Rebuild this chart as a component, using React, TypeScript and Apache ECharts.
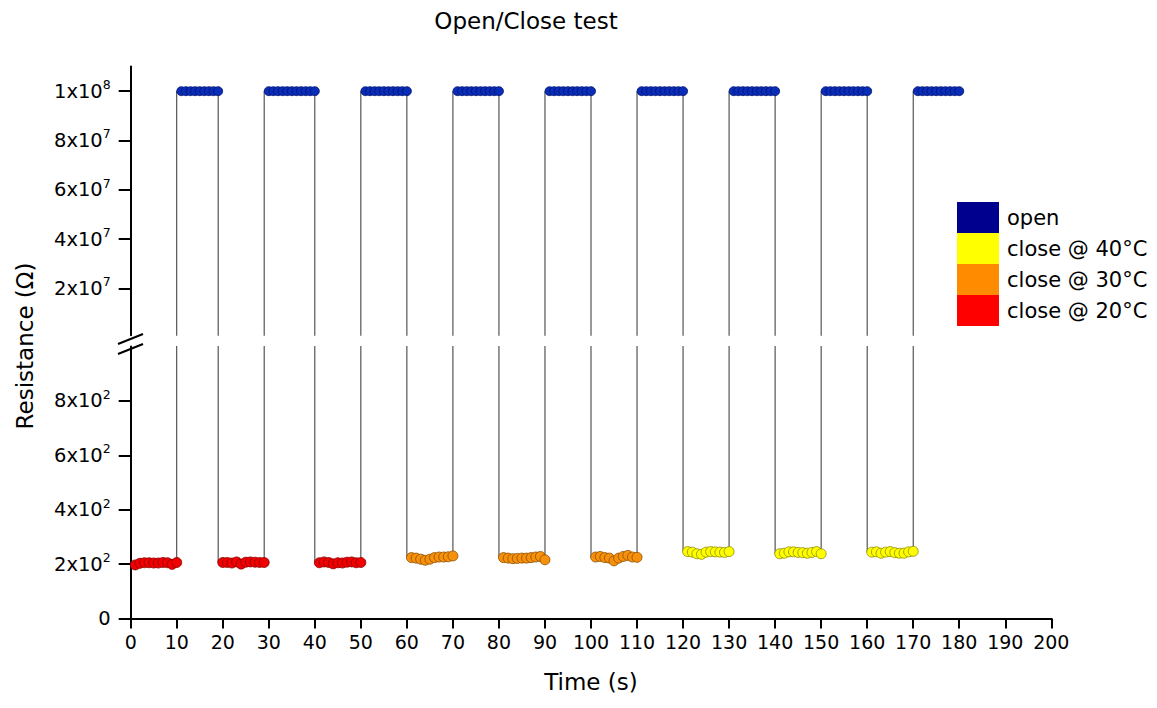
import React, { useEffect, useRef } from "react";
import * as echarts from "echarts";

// ---------- data ----------
const xTickValues = [0, 10, 20, 30, 40, 50, 60, 70, 80, 90, 100, 110, 120, 130, 140, 150, 160, 170, 180, 190, 200];
const upperTicks = [2e7, 4e7, 6e7, 8e7, 1e8];
const lowerTicks = [0, 200, 400, 600, 800];

// open state (time of first point of each run, resistance values)
const openStarts = [11, 30, 51, 71, 91, 111, 131, 151, 171];
const openValues = [
  [1e8, 1e8, 1e8, 1e8, 1e8, 1e8, 1e8, 1e8, 1e8],
  [1e8, 1e8, 1e8, 1e8, 1e8, 1e8, 1e8, 1e8, 1e8, 1e8, 1e8],
  [1e8, 1e8, 1e8, 1e8, 1e8, 1e8, 1e8, 1e8, 1e8, 1e8],
  [1e8, 1e8, 1e8, 1e8, 1e8, 1e8, 1e8, 1e8, 1e8, 1e8],
  [1e8, 1e8, 1e8, 1e8, 1e8, 1e8, 1e8, 1e8, 1e8, 1e8],
  [1e8, 1e8, 1e8, 1e8, 1e8, 1e8, 1e8, 1e8, 1e8, 1e8],
  [1e8, 1e8, 1e8, 1e8, 1e8, 1e8, 1e8, 1e8, 1e8, 1e8],
  [1e8, 1e8, 1e8, 1e8, 1e8, 1e8, 1e8, 1e8, 1e8, 1e8],
  [1e8, 1e8, 1e8, 1e8, 1e8, 1e8, 1e8, 1e8, 1e8, 1e8],
];

// close @ 20°C
const close20Starts = [1, 20, 41];
const close20Values = [
  [197, 203, 205, 205, 204, 204, 206, 205, 199, 206],
  [206, 206, 204, 208, 200, 207, 208, 207, 206, 206],
  [205, 208, 206, 201, 205, 204, 207, 208, 205, 206],
];

// close @ 30°C
const close30Starts = [61, 81, 101];
const close30Values = [
  [224, 222, 218, 214, 218, 224, 226, 226, 227, 230],
  [224, 222, 220, 221, 222, 222, 224, 226, 228, 216],
  [226, 228, 224, 222, 212, 222, 228, 232, 226, 225],
];

// close @ 40°C
const close40Starts = [121, 141, 161];
const close40Values = [
  [246, 244, 238, 236, 244, 246, 245, 244, 243, 246],
  [238, 240, 245, 245, 243, 242, 240, 243, 246, 238],
  [244, 245, 240, 244, 246, 242, 240, 240, 245, 247],
];

const seriesNames = ["open", "close @ 40°C", "close @ 30°C", "close @ 20°C"];
const legendColors = ["#00008F", "#FFFF00", "#FF8C00", "#FF0000"];

// ---------- helpers ----------
const FONT = "DejaVu Sans";

function toPoints(starts: number[], values: number[][]): number[][] {
  const pts: number[][] = [];
  starts.forEach((s, k) => {
    values[k].forEach((v, i) => pts.push([s + i, v]));
  });
  return pts;
}

function sciLabel(v: number): string {
  if (v === 0) return "{b|0}";
  const e = Math.floor(Math.log10(v) + 1e-9);
  const m = Math.round(v / Math.pow(10, e));
  return `{b|${m}x10}{s|${e}}`;
}

const richLabel = {
  b: { fontSize: 19.5, lineHeight: 26, fontFamily: FONT, color: "#000" },
  s: { fontSize: 12.5, lineHeight: 12, verticalAlign: "top", fontFamily: FONT, color: "#000" },
};

export default function App() {
  const ref = useRef<HTMLDivElement>(null);

  useEffect(() => {
    if (!ref.current) return;
    const chart = echarts.init(ref.current, null, { renderer: "svg" });

    const openPts = toPoints(openStarts, openValues);
    const c20 = toPoints(close20Starts, close20Values);
    const c30 = toPoints(close30Starts, close30Values);
    const c40 = toPoints(close40Starts, close40Values);
    const trace = [...openPts, ...c20, ...c30, ...c40].sort((a, b) => a[0] - b[0]);

    const gridLeft = 130.7;
    const gridWidth = 920.6;

    const axisLineStyle = { color: "#000", width: 2 };

    const option: any = {
      animation: false,
      backgroundColor: "#fff",
      textStyle: { fontFamily: FONT },
      title: {
        text: "Open/Close test",
        left: 521,
        top: 4,
        textAlign: "center",
        textStyle: { fontSize: 23, fontWeight: "normal", color: "#000", fontFamily: FONT },
      },
      legend: {
        orient: "vertical",
        left: 957,
        top: 202,
        padding: 0,
        itemWidth: 42,
        itemHeight: 31,
        itemGap: 0,
        icon: "rect",
        selectedMode: false,
        textStyle: { fontSize: 21, color: "#000", fontFamily: FONT, padding: [0, 0, 10, 3] },
        data: seriesNames.map((n, i) => ({
          name: n,
          icon: "rect",
          itemStyle: { color: legendColors[i], borderWidth: 0 },
        })),
      },
      grid: [
        { left: gridLeft, width: gridWidth, top: 66.5, height: 268.8 },
        { left: gridLeft, width: gridWidth, top: 346.5, height: 272 },
      ],
      xAxis: [
        { type: "value", gridIndex: 0, min: 0, max: 200, show: false },
        {
          type: "value",
          gridIndex: 1,
          min: 0,
          max: 200,
          interval: 10,
          axisLine: { show: true, onZero: false, lineStyle: axisLineStyle },
          axisTick: { show: true, length: 10, lineStyle: { color: "#000", width: 2 }, customValues: xTickValues },
          axisLabel: { fontSize: 19, color: "#000", margin: 14, fontFamily: FONT, customValues: xTickValues },
          splitLine: { show: false },
          name: "Time (s)",
          nameLocation: "middle",
          nameGap: 52,
          nameTextStyle: { fontSize: 23, color: "#000", fontFamily: FONT },
        },
      ],
      yAxis: [
        {
          type: "value",
          gridIndex: 0,
          min: 1e6,
          max: 1.1e8,
          axisLine: { show: true, lineStyle: axisLineStyle },
          axisTick: { show: true, length: 12, lineStyle: { color: "#000", width: 2 }, customValues: upperTicks },
          axisLabel: { margin: 20, fontSize: 19.5, formatter: (v: number) => sciLabel(v), rich: richLabel, customValues: upperTicks },
          splitLine: { show: false },
        },
        {
          type: "value",
          gridIndex: 1,
          min: 0,
          max: 1000,
          axisLine: { show: true, lineStyle: axisLineStyle },
          axisTick: { show: true, length: 12, lineStyle: { color: "#000", width: 2 }, customValues: lowerTicks },
          axisLabel: { margin: 20, fontSize: 19.5, formatter: (v: number) => sciLabel(v), rich: richLabel, customValues: lowerTicks },
          splitLine: { show: false },
        },
      ],
      graphic: [
        {
          type: "line",
          shape: { x1: 118, y1: 344, x2: 143, y2: 334 },
          style: { stroke: "#000", lineWidth: 2 },
          z: 100,
        },
        {
          type: "line",
          shape: { x1: 118, y1: 354, x2: 143, y2: 344 },
          style: { stroke: "#000", lineWidth: 2 },
          z: 100,
        },
        {
          type: "text",
          x: 25,
          y: 346,
          rotation: Math.PI / 2,
          style: {
            text: "Resistance (Ω)",
            fontSize: 23,
            fontFamily: FONT,
            fill: "#000",
            textAlign: "center",
            textVerticalAlign: "middle",
          },
        },
      ],
      series: [
        {
          name: "trace-upper",
          type: "line",
          xAxisIndex: 0,
          yAxisIndex: 0,
          data: trace,
          step: "start",
          showSymbol: false,
          symbol: "none",
          clip: true,
          silent: true,
          lineStyle: { color: "#333", width: 1 },
          z: 1,
        },
        {
          name: "trace-lower",
          type: "line",
          xAxisIndex: 1,
          yAxisIndex: 1,
          data: trace,
          step: "start",
          showSymbol: false,
          symbol: "none",
          clip: true,
          silent: true,
          lineStyle: { color: "#333", width: 1 },
          z: 1,
        },
        {
          name: "open",
          type: "scatter",
          xAxisIndex: 0,
          yAxisIndex: 0,
          data: openPts,
          symbolSize: 9,
          itemStyle: { color: "#0A2DB8", borderColor: "#001070", borderWidth: 0.8, opacity: 1 },
          z: 3,
        },
        {
          name: "close @ 40°C",
          type: "scatter",
          xAxisIndex: 1,
          yAxisIndex: 1,
          data: c40,
          symbolSize: 10,
          itemStyle: { color: "#FFFF00", borderColor: "#8E8A00", borderWidth: 0.8, opacity: 1 },
          z: 3,
        },
        {
          name: "close @ 30°C",
          type: "scatter",
          xAxisIndex: 1,
          yAxisIndex: 1,
          data: c30,
          symbolSize: 10,
          itemStyle: { color: "#F7900A", borderColor: "#8A4E00", borderWidth: 0.8, opacity: 1 },
          z: 3,
        },
        {
          name: "close @ 20°C",
          type: "scatter",
          xAxisIndex: 1,
          yAxisIndex: 1,
          data: c20,
          symbolSize: 10,
          itemStyle: { color: "#F00000", borderColor: "#8A0000", borderWidth: 0.8, opacity: 1 },
          z: 3,
        },
      ],
    };

    chart.setOption(option);
    return () => chart.dispose();
  }, []);

  return (
    <div
      ref={ref}
      style={{ position: "absolute", left: 0, top: 0, width: 1157, height: 708, background: "#fff" }}
    />
  );
}
